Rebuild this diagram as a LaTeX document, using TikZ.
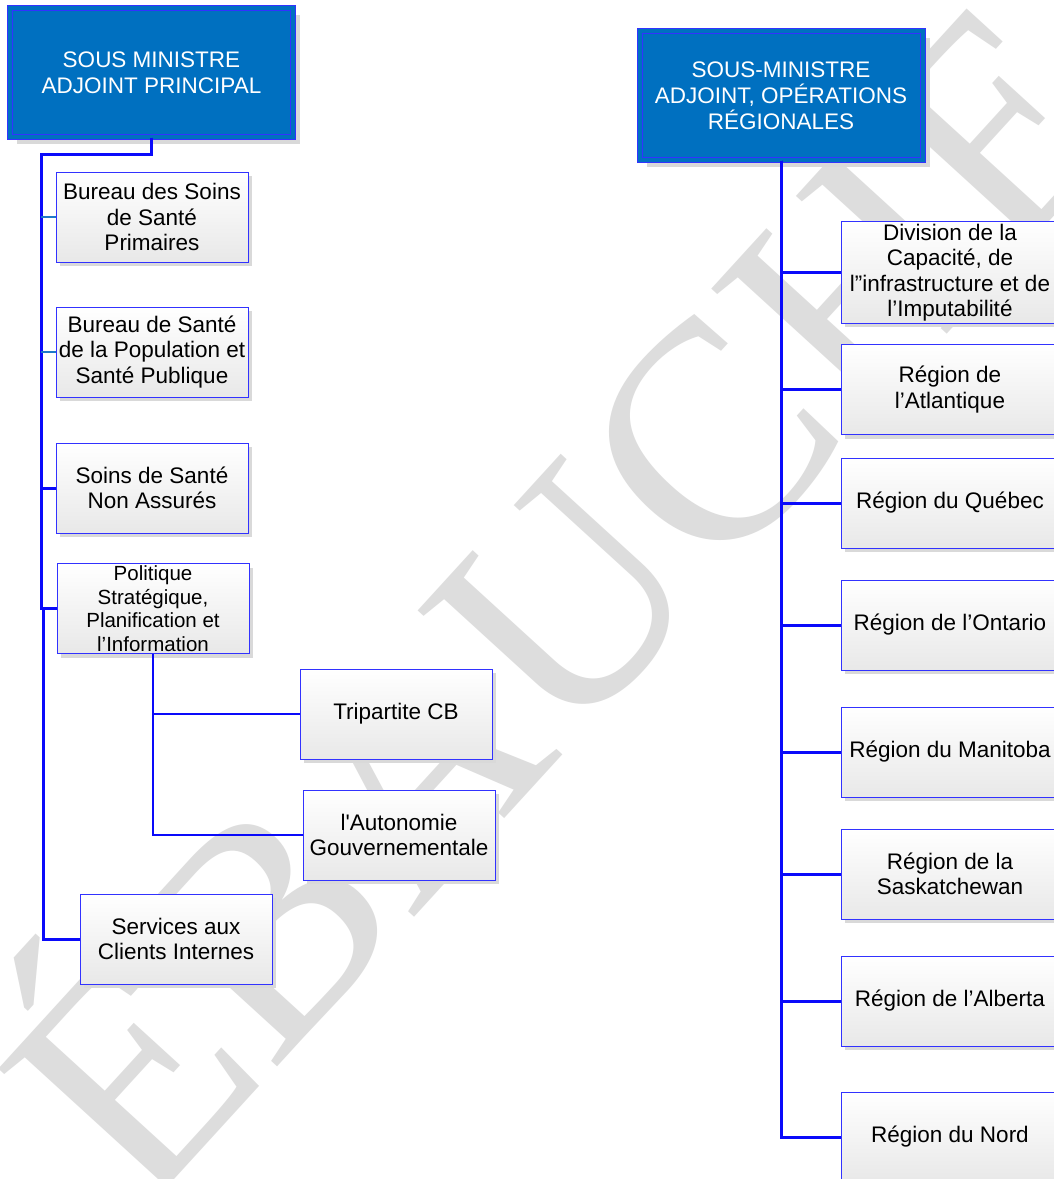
\documentclass[tikz,border=0pt]{standalone}
\usepackage{fontspec}
\setmainfont{Liberation Sans}
\newfontfamily\wmfont{Liberation Serif}
\usepackage{tikz}
\usetikzlibrary{shadows}

\definecolor{lnk}{RGB}{10,10,250}
\definecolor{bdr}{RGB}{50,50,255}
\definecolor{stub}{RGB}{30,120,200}
\definecolor{ttlfill}{RGB}{0,112,192}
\definecolor{wm}{RGB}{221,221,221}

\begin{document}
\begin{tikzpicture}[x=1pt,y=1pt,
  unit/.style={draw=bdr,line width=1pt,top color=white,bottom color=black!9,
    minimum width=192pt,minimum height=90pt,inner sep=2pt,align=center,
    font={\fontsize{22.5}{25.5}\selectfont},
    drop shadow={shadow xshift=4pt,shadow yshift=-4pt,fill=black!15,opacity=1}},
  region/.style={unit,minimum width=218pt},
  chief/.style={draw=bdr,line width=1pt,double=ttlfill,double distance=4pt,fill=ttlfill,
    text=white,minimum width=283pt,minimum height=129pt,align=center,
    font={\fontsize{22.5}{26}\selectfont},
    drop shadow={shadow xshift=7pt,shadow yshift=-7pt,fill=black!15,opacity=1}},
  link/.style={draw=lnk,line width=3pt},
  sublink/.style={draw=lnk,line width=2.3pt},
  stublink/.style={draw=stub,line width=1.6pt}]
\useasboundingbox (0,0) rectangle (1054,-1179);
\fill[white] (0,0) rectangle (1054,-1179);

\node[text=wm,font={\wmfont\fontsize{312}{312}\selectfont},rotate=47.6,anchor=base,inner sep=0pt] (wmark) at (640,-670) {ÉBAUCHE};

\node[chief] (psma) at (151.5,-72.5) {SOUS MINISTRE\\ADJOINT PRINCIPAL};
\node[chief] (smaor) at (781,-95.5) {SOUS-MINISTRE\\ADJOINT, OPÉRATIONS\\RÉGIONALES};

\node[unit] (bssp) at (152,-217) {Bureau des Soins\\de Santé\\Primaires};
\node[unit] (bspsp) at (152,-352) {Bureau de Santé\\de la Population et\\Santé Publique};
\node[unit] (ssna) at (152,-488) {Soins de Santé\\Non Assurés};
\node[unit,font={\fontsize{20.5}{23.5}\selectfont}] (pspi) at (153,-608.5) {Politique\\Stratégique,\\Planification et\\l’Information};
\node[unit] (tcb) at (396,-714) {Tripartite CB};
\node[unit] (ag) at (399,-835) {l\textquotesingle Autonomie\\Gouvernementale};
\node[unit] (sci) at (176,-939) {Services aux\\Clients Internes};

\node[region,minimum height=98pt] (dcii) at (950,-272.5) {Division de la\\Capacité, de\\l”infrastructure et de\\l’Imputabilité};
\node[region] (ratl) at (950,-389.5) {Région de\\l’Atlantique};
\node[region] (rqc) at (950,-503) {Région du Québec};
\node[region] (ron) at (950,-625) {Région de l’Ontario};
\node[region] (rmb) at (950,-752) {Région du Manitoba};
\node[region] (rsk) at (950,-874) {Région de la\\Saskatchewan};
\node[region] (rab) at (950,-1001) {Région de l’Alberta};
\node[region] (rnord) at (950,-1137) {Région du Nord};

\coordinate (trunk) at (41,-154);
\coordinate (trunkb) at (43,-154);
\draw[link] (psma.south) |- (trunk) |- (ssna.west);
\draw[link] (psma.south) |- (trunk) |- (pspi.west);
\draw[stublink] (bssp.west -| trunk) -- (bssp.west);
\draw[stublink] (bspsp.west -| trunk) -- (bspsp.west);
\draw[link] (pspi.west -| trunkb) |- (sci.west);
\draw[sublink] (pspi.south) |- (tcb.west);
\draw[sublink] (pspi.south) |- (ag.west);
\foreach \r in {dcii,ratl,rqc,ron,rmb,rsk,rab,rnord}
  \draw[link] (smaor.south) |- (\r.west);
\end{tikzpicture}
\end{document}
